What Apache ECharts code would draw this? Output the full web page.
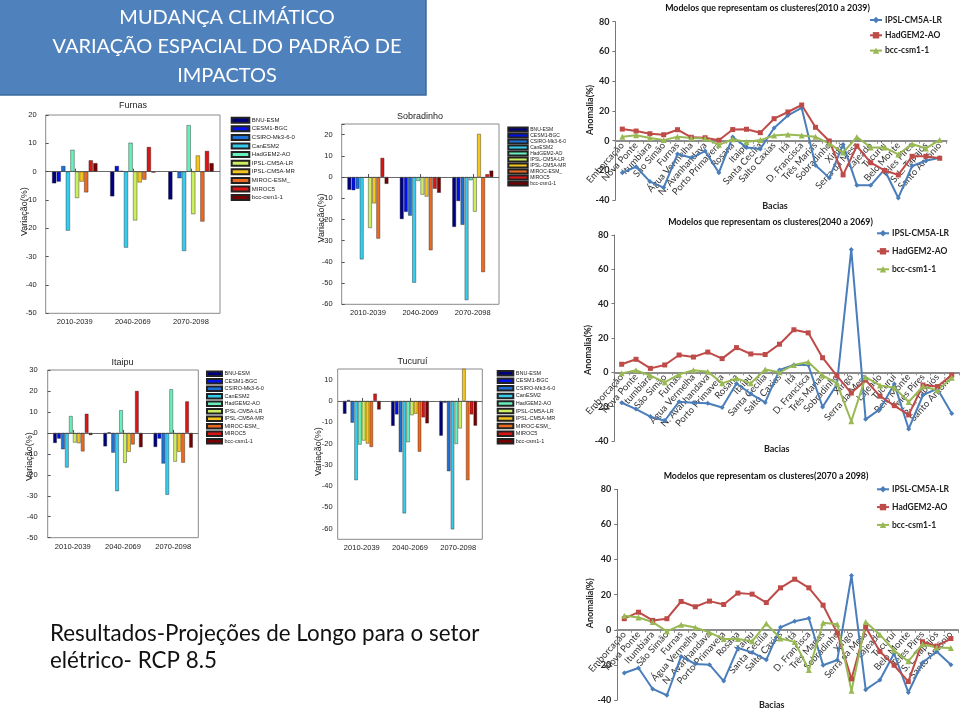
<!DOCTYPE html>
<html><head><meta charset="utf-8">
<script src="https://cdn.jsdelivr.net/npm/echarts@6/dist/echarts.min.js"></script>
<style>
html,body{margin:0;padding:0;background:#fff;}
#left{position:absolute;left:0;top:0;width:580px;height:711px;}
#right{position:absolute;left:580px;top:0;width:380px;height:711px;}
</style></head>
<body>
<div id="left"></div><div id="right"></div>
<script>
// ---------- DATA ----------
const models = ['BNU-ESM','CESM1-BGC','CSIRO-Mk3-6-0','CanESM2','HadGEM2-AO','IPSL-CM5A-LR','IPSL-CM5A-MR','MIROC-ESM_','MIROC5','bcc-csm1-1'];
const periods = ['2010-2039','2040-2069','2070-2098'];

const furnas2010 = [-4.1, -3.5, 2, -20.8, 7.7, -9.3, -3.5, -7.3, 4, 3];
const furnas2040 = [-8.7, 2, 0.3, -26.8, 10.2, -17.2, -3.8, -2.8, 8.7, -0.3];
const furnas2070 = [-9.8, 0.2, -2.3, -28, 16.4, -15, 5.7, -17.6, 7.3, 3];

const sobradinho2010 = [-6, -6.2, -5.5, -38.8, -0.3, -24, -12.4, -29, 9, -3.2];
const sobradinho2040 = [-19.8, -16.4, -18.2, -49.8, -1.8, -8.3, -9.2, -34.5, -5.5, -7.4];
const sobradinho2070 = [-23.5, -11.3, -22.5, -58, -1.5, -16.3, 20.3, -44.8, 1.3, 3];

const itaipu2010 = [-4.8, -2.7, -7.8, -16.5, 8, -4.6, -4.9, -8.8, 9.1, -1];
const itaipu2040 = [-6.4, 0.3, -9.4, -27.8, 10.8, -14.3, -9, -5.5, 20, -6.8];
const itaipu2070 = [-6.7, -2.7, -14.6, -29.5, 20.8, -13.7, -9, -14.2, 15, -7];

const tucurui2010 = [-6, 0.4, -10.2, -37.2, -20.5, -18.6, -20, -21.6, 3.4, -4];
const tucurui2040 = [-11.7, -6.3, -24, -52.8, -19.4, -6.7, -6, -23.8, -7.7, -10.5];
const tucurui2070 = [-16.3, -0.8, -33, -60.3, -20.2, -12.9, 16, -37.2, -6.3, -11.6];

const basins = ['Emborcação','Nova Ponte','Itumbiara','São Simão','Furnas','Água Vermelha','N. Avanhandava','Porto Primavera','Rosana','Itaipu','Santa Cecília','Salto Caxias','Itá','D. Francisca','Três Marias','Sobradinho','Xingó','Serra da Mesa','Lajeado','Tucuruí','Belo Monte','Teles Pires','S. L. Tapajós','Santo Antônio'];
const lineModels = ['IPSL-CM5A-LR','HadGEM2-AO','bcc-csm1-1'];

const ipsl2010 = [-21.5, -17.5, -27.5, -31.5, -9, -11.5, -7, -21.5, 2.5, -4.5, -5.5, 8.5, 17, 22, -16.5, -25, -2.5, -30, -30, -19.5, -38.5, -17, -13.5, -11.5];
const had2010  = [7.8, 6.5, 4.7, 4, 7.4, 2.3, 2, 0.3, 7.5, 7.7, 5.4, 14.8, 19.3, 24, 9, -0.2, -23, -3.6, -14.8, -20, -23, -10.5, -10.5, -11.8];
const bcc2010  = [2.6, 3.7, 1.8, 0.4, 2.6, 1.8, 1.4, -2.8, 1, -0.8, 0.4, 3.5, 4.2, 3.5, 2.6, -2, -8, 2.5, -4.5, -4.5, -9.2, -2.2, -5.2, 0.5];

const ipsl2040 = [-17.7, -21.4, -25.8, -28.2, -17.1, -17.7, -18, -20.5, -6.5, -12.5, -17.5, 1.4, 4.3, 4.3, -20.2, -7, 71.6, -27.4, -21.4, -6.8, -33, -13.2, -9.5, -24];
const had2040  = [4.7, 7.6, 2.3, 4.3, 10.1, 8.9, 11.8, 8, 14.4, 10.7, 10.4, 16.4, 24.8, 23, 8.5, -2, -12.1, -4.5, -13.9, -19.4, -24.8, -7.4, -8.3, -1.6];
const bcc2040  = [-0.6, 1.2, -1.9, -5.8, -1.2, 1.2, 0.4, -6.4, -3.5, -6.4, 1.7, 0, 4.3, 6, -1.8, -6.4, -28.5, -2.8, -7.6, -9, -17.3, -8.1, -10.5, -3.2];

const ipsl2070 = [-24.6, -21.8, -33.7, -37.3, -15.2, -19.5, -19.9, -29.2, -10.4, -12.9, -17.1, 1.4, 4.9, 6.6, -20.2, -17.2, 30.9, -34.1, -28.6, -13.5, -35.7, -18.8, -12.4, -19.9];
const had2070  = [6.3, 10, 5.3, 6.3, 16.1, 13.1, 16.3, 14.4, 20.9, 20.3, 15.5, 23.9, 28.8, 23.9, 14, -1.9, -28, 1.5, -12.4, -20.2, -29.5, -6.8, -9.3, -5];
const bcc2070  = [8, 7, 4.4, -0.9, 2.8, 1.3, -1.5, -5.3, -5.3, -6.6, 3.5, -5, -6.9, -22.9, 4, 3.2, -34.8, 4.4, -2.8, -11.8, -18, -8.2, -10.1, -10.4];

// ---------- STYLES ----------
const modelColors = ['#00007f','#0010e8','#1f6fd8','#35cdef','#66f0bc','#ccef62','#f7c51f','#ec6a1f','#dc1414','#780000'];
const lineColors = ['#4a7ebb','#be4b48','#98b954'];
const lineSymbols = ['diamond','rect','triangle'];
const lineSymbolSizes = [5,5,6];
const FB = 'Liberation Sans, Arial, sans-serif';
const FC = 'Lato, Liberation Sans, sans-serif';

// ---------- LEFT: bar panels ----------
const barPanels = [
  {title:'Furnas', vals:[furnas2010,furnas2040,furnas2070], grid:{left:45.7,top:115,width:174.3,height:198.3}, min:-50,max:20,interval:10, tx:133,ty:105.7, nx:25,ny:211.7,
   lg:{left:230.7,top:116.7,w:17.6,h:5,fs:6,lh:6,gap:1.6}, lm:9},
  {title:'Sobradinho', vals:[sobradinho2010,sobradinho2040,sobradinho2070], grid:{left:341.7,top:124,width:157.3,height:180.3}, min:-60,max:25,interval:10, tx:420,ty:116.7, nx:321.7,ny:218,
   lg:{left:507.3,top:126.6,w:19.4,h:4,fs:5,lh:4.7,gap:0}, lm:9},
  {title:'Itaipu', vals:[itaipu2010,itaipu2040,itaipu2070], grid:{left:47.7,top:370,width:150.6,height:167.7}, min:-50,max:30,interval:10, tx:122.5,ty:362.7, nx:29.3,ny:456.7,
   lg:{left:206,top:370.5,w:15,h:4.5,fs:5.5,lh:5.5,gap:1}, lm:10},
  {title:'Tucuruí', vals:[tucurui2010,tucurui2040,tucurui2070], grid:{left:337.7,top:369,width:144.6,height:170.3}, min:-65,max:15,interval:5, tx:412.5,ty:361.7, nx:318.3,ny:451.7,
   lg:{left:496.7,top:370,w:15.6,h:4.5,fs:5.5,lh:5.5,gap:1.05}, lm:5}
];

const lGrids=[], lX=[], lY=[], lSeries=[], lLegends=[], lGraphic=[];
barPanels.forEach((p,i)=>{
  lGrids.push(Object.assign({show:true,borderColor:'#8a8a8a',borderWidth:1,backgroundColor:'#fff',containLabel:false}, p.grid));
  lX.push({type:'category',gridIndex:i,data:periods,axisLine:{show:false},
    axisTick:{show:true,inside:true,alignWithLabel:true,length:3,lineStyle:{color:'#555'}},
    axisLabel:{fontSize:7.5,color:'#222',margin:5,fontFamily:FB}});
  lY.push({type:'value',gridIndex:i,min:p.min,max:p.max,interval:p.interval,
    axisLine:{show:false},splitLine:{show:false},
    axisTick:{show:p.interval===10,inside:true,length:3,lineStyle:{color:'#555'}},
    axisLabel:{fontSize:7.5,color:'#222',margin:p.lm,fontFamily:FB,showMaxLabel:true,
      formatter:v=> (Math.round(v)%10===0 && v<=p.max-(p.max%10)) ? String(v) : ''}});
  models.forEach((m,k)=>{
    const s = {type:'bar',name:m,xAxisIndex:i,yAxisIndex:i,
      data:p.vals.map(arr=>arr[k]),
      barGap:'12%',barCategoryGap:'22%',
      itemStyle:{color:modelColors[k],borderColor:'#222',borderWidth:0.4},
      emphasis:{disabled:true},silent:true,animation:false};
    if(k===0){
      s.markLine={silent:true,symbol:'none',label:{show:false},animation:false,
        lineStyle:{color:'#444',width:0.8,type:'solid'},data:[{yAxis:0}]};
    }
    lSeries.push(s);
  });
  lLegends.push({orient:'vertical',left:p.lg.left,top:p.lg.top,padding:0,
    itemWidth:p.lg.w,itemHeight:p.lg.h,itemGap:p.lg.gap,icon:'rect',selectedMode:false,
    data:models,textStyle:{fontSize:p.lg.fs,lineHeight:p.lg.lh,color:'#222',fontFamily:FB,padding:[0,0,0,-2.5]}});
  lGraphic.push({type:'text',x:p.tx,y:p.ty,silent:true,
    style:{text:p.title,fill:'#222',font:'9px '+FB,textAlign:'center',textVerticalAlign:'middle'}});
  lGraphic.push({type:'text',x:p.nx,y:p.ny,rotation:Math.PI/2,silent:true,
    style:{text:'Variação(%)',fill:'#222',font:'9px '+FB,textAlign:'center',textVerticalAlign:'middle'}});
});

// title box + bottom text
lGraphic.push({type:'rect',silent:true,z:-1,shape:{x:-2,y:-2,width:428,height:97},
  style:{fill:'#4f81bd',stroke:'#3d6a9e',lineWidth:1.5}});
[['MUDANÇA CLIMÁTICO',18],['VARIAÇÃO ESPACIAL DO PADRÃO DE',47],['IMPACTOS',76]].forEach(t=>{
  lGraphic.push({type:'text',x:227,y:t[1],silent:true,
    style:{text:t[0],fill:'#fff',font:'20px '+FC,textAlign:'center',textVerticalAlign:'middle'}});
});
[['Resultados-Projeções de Longo para o setor',634],['elétrico- RCP 8.5',661]].forEach(t=>{
  lGraphic.push({type:'text',x:50,y:t[1],silent:true,
    style:{text:t[0],fill:'#111',font:'22.4px '+FC,textAlign:'left',textVerticalAlign:'middle'}});
});

const leftChart = echarts.init(document.getElementById('left'),null,{renderer:'canvas'});
leftChart.setOption({backgroundColor:'#fff',animation:false,grid:lGrids,xAxis:lX,yAxis:lY,series:lSeries,legend:lLegends,graphic:lGraphic});

// ---------- RIGHT: line panels ----------
const linePanels = [
  {title:'Modelos que representam os clusteres(2010 a 2039)', vals:[ipsl2010,had2010,bcc2010],
   grid:{left:35.4,top:21.7,width:331.2,height:178.5}, tx:187.5,ty:8.3, bx:195,by:206, nx:10,ny:110,
   lg:{left:289,top:15.5,gap:6.3}},
  {title:'Modelos que representam os clusteres(2040 a 2069)', vals:[ipsl2040,had2040,bcc2040],
   grid:{left:34.5,top:235,width:344.4,height:206}, tx:190.5,ty:221.7, bx:196.7,by:449.3, nx:8.3,ny:350,
   lg:{left:296,top:228.8,gap:9}},
  {title:'Modelos que representam os clusteres(2070 a 2098)', vals:[ipsl2070,had2070,bcc2070],
   grid:{left:37.2,top:489.3,width:340.8,height:210.7}, tx:186,ty:476, bx:191.7,by:705, nx:10,ny:603.3,
   lg:{left:296,top:484.8,gap:8.8}}
];
const rGrids=[], rX=[], rY=[], rSeries=[], rLegends=[], rGraphic=[];
linePanels.forEach((p,i)=>{
  rGrids.push(Object.assign({containLabel:false},p.grid));
  rX.push({type:'category',gridIndex:i,data:basins,boundaryGap:true,position:'bottom',
    offset:-p.grid.height*40/120,
    axisLine:{onZero:false,lineStyle:{color:'#8c8c8c',width:2}},
    axisTick:{show:true,length:3,lineStyle:{color:'#8c8c8c',width:1}},
    axisLabel:{interval:0,rotate:48,fontSize:9.5,color:'#333',margin:3,fontFamily:FC}});
  rY.push({type:'value',gridIndex:i,min:-40,max:80,interval:20,
    axisLine:{show:true,lineStyle:{color:'#777',width:1}},
    axisTick:{show:true,length:3,lineStyle:{color:'#777'}},splitLine:{show:false},
    axisLabel:{fontSize:9,fontWeight:'bold',color:'#222',margin:6,fontFamily:FC}});
  lineModels.forEach((m,k)=>{
    rSeries.push({type:'line',name:m,xAxisIndex:i,yAxisIndex:i,data:p.vals[k],
      symbol:lineSymbols[k],symbolSize:lineSymbolSizes[k],showSymbol:true,
      lineStyle:{color:lineColors[k],width:2},itemStyle:{color:lineColors[k]},
      emphasis:{disabled:true},silent:true,animation:false});
  });
  rLegends.push({orient:'vertical',left:p.lg.left,top:p.lg.top,padding:0,
    itemWidth:12,itemHeight:8,itemGap:p.lg.gap,selectedMode:false,data:lineModels,
    textStyle:{fontSize:8.5,fontWeight:'bold',lineHeight:9,color:'#222',fontFamily:FC,padding:[0,0,0,-2]}});
  rGraphic.push({type:'text',x:p.tx,y:p.ty,silent:true,
    style:{text:p.title,fill:'#111',font:'bold 8.8px '+FC,textAlign:'center',textVerticalAlign:'middle'}});
  rGraphic.push({type:'text',x:p.bx,y:p.by,silent:true,
    style:{text:'Bacias',fill:'#222',font:'bold 9px '+FC,textAlign:'center',textVerticalAlign:'middle'}});
  rGraphic.push({type:'text',x:p.nx,y:p.ny,rotation:Math.PI/2,silent:true,
    style:{text:'Anomalia(%)',fill:'#222',font:'bold 9px '+FC,textAlign:'center',textVerticalAlign:'middle'}});
});
const rightChart = echarts.init(document.getElementById('right'),null,{renderer:'canvas'});
rightChart.setOption({backgroundColor:'rgba(0,0,0,0)',animation:false,grid:rGrids,xAxis:rX,yAxis:rY,series:rSeries,legend:rLegends,graphic:rGraphic});
</script>
</body></html>
